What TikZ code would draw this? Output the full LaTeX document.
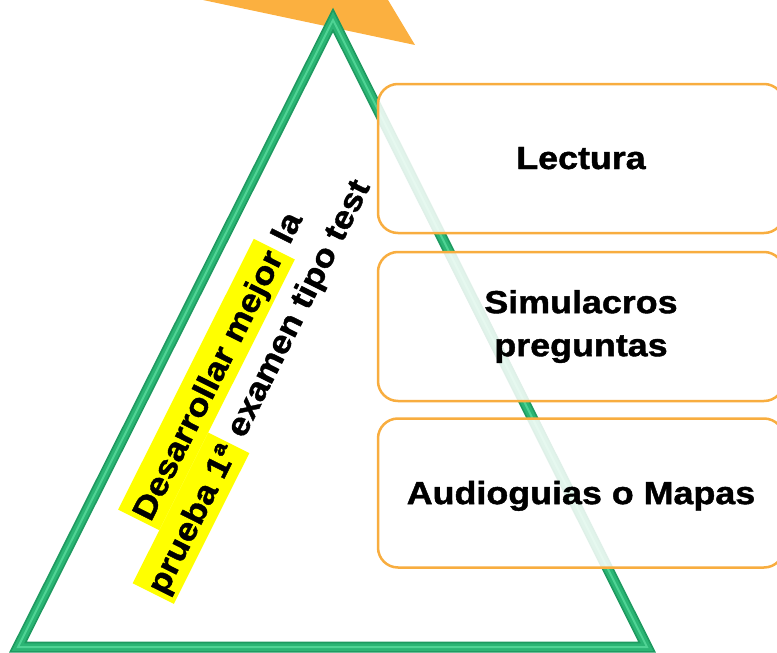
\documentclass[tikz,border=0pt]{standalone}
\usepackage{fontspec}
\newfontfamily\blk[FakeStretch=1.12,FakeBold=1.3]{Liberation Sans}
\definecolor{orangeA}{HTML}{FBB040}
\definecolor{boxline}{HTML}{F8AD3F}
\definecolor{grnD}{HTML}{1E9A60}
\definecolor{grnM}{HTML}{2BB574}
\definecolor{grnL}{HTML}{4FD394}
\definecolor{hly}{HTML}{FFFF00}
\newcommand\hlbox[1]{{\setlength{\fboxsep}{0pt}\colorbox{hly}{\rule[-11pt]{0pt}{46pt}\hspace{3pt}#1\hspace{3pt}}}}
\tikzset{
  itembox/.style={draw=boxline, line width=2.5pt, rounded corners=20pt,
    fill=white, fill opacity=0.86, text opacity=1, inner sep=0pt,
    minimum width=406pt, minimum height=149pt, align=center,
    font=\blk\bfseries\fontsize{32}{43}\selectfont},
  oneline/.style={text depth=1pt},
  rottext/.style={rotate=63.4, align=center, inner sep=0pt,
    font=\blk\bfseries\fontsize{32}{46}\selectfont},
}
\begin{document}
\begin{tikzpicture}[x=1pt,y=-1pt,line join=miter]
\useasboundingbox (0,0) rectangle (777,653);
% orange shape
\fill[orangeA] (203,0) -- (388,0) -- (415,45) -- cycle;
% triangle
\coordinate (A) at (333,20);
\coordinate (B) at (18,647);
\coordinate (C) at (647,647);
\draw[grnD, line width=11pt] (A) -- (B) -- (C) -- cycle;
\draw[grnM, line width=7.5pt] (A) -- (B) -- (C) -- cycle;
\draw[grnL, line width=2pt] (A) -- (B) -- (C) -- cycle;
% rotated text
\node[rottext] (rt) at (236,377) {\hlbox{Desarrollar mejor} la\\\hlbox{prueba 1ª} examen tipo test};
% boxes
\node[itembox, oneline] (b1) at (581,158.5) {Lectura};
\node[itembox] (b2) at (581,326.5) {Simulacros\\preguntas};
\node[itembox, oneline] (b3) at (581,493) {Audioguias o Mapas};
\end{tikzpicture}
\end{document}
